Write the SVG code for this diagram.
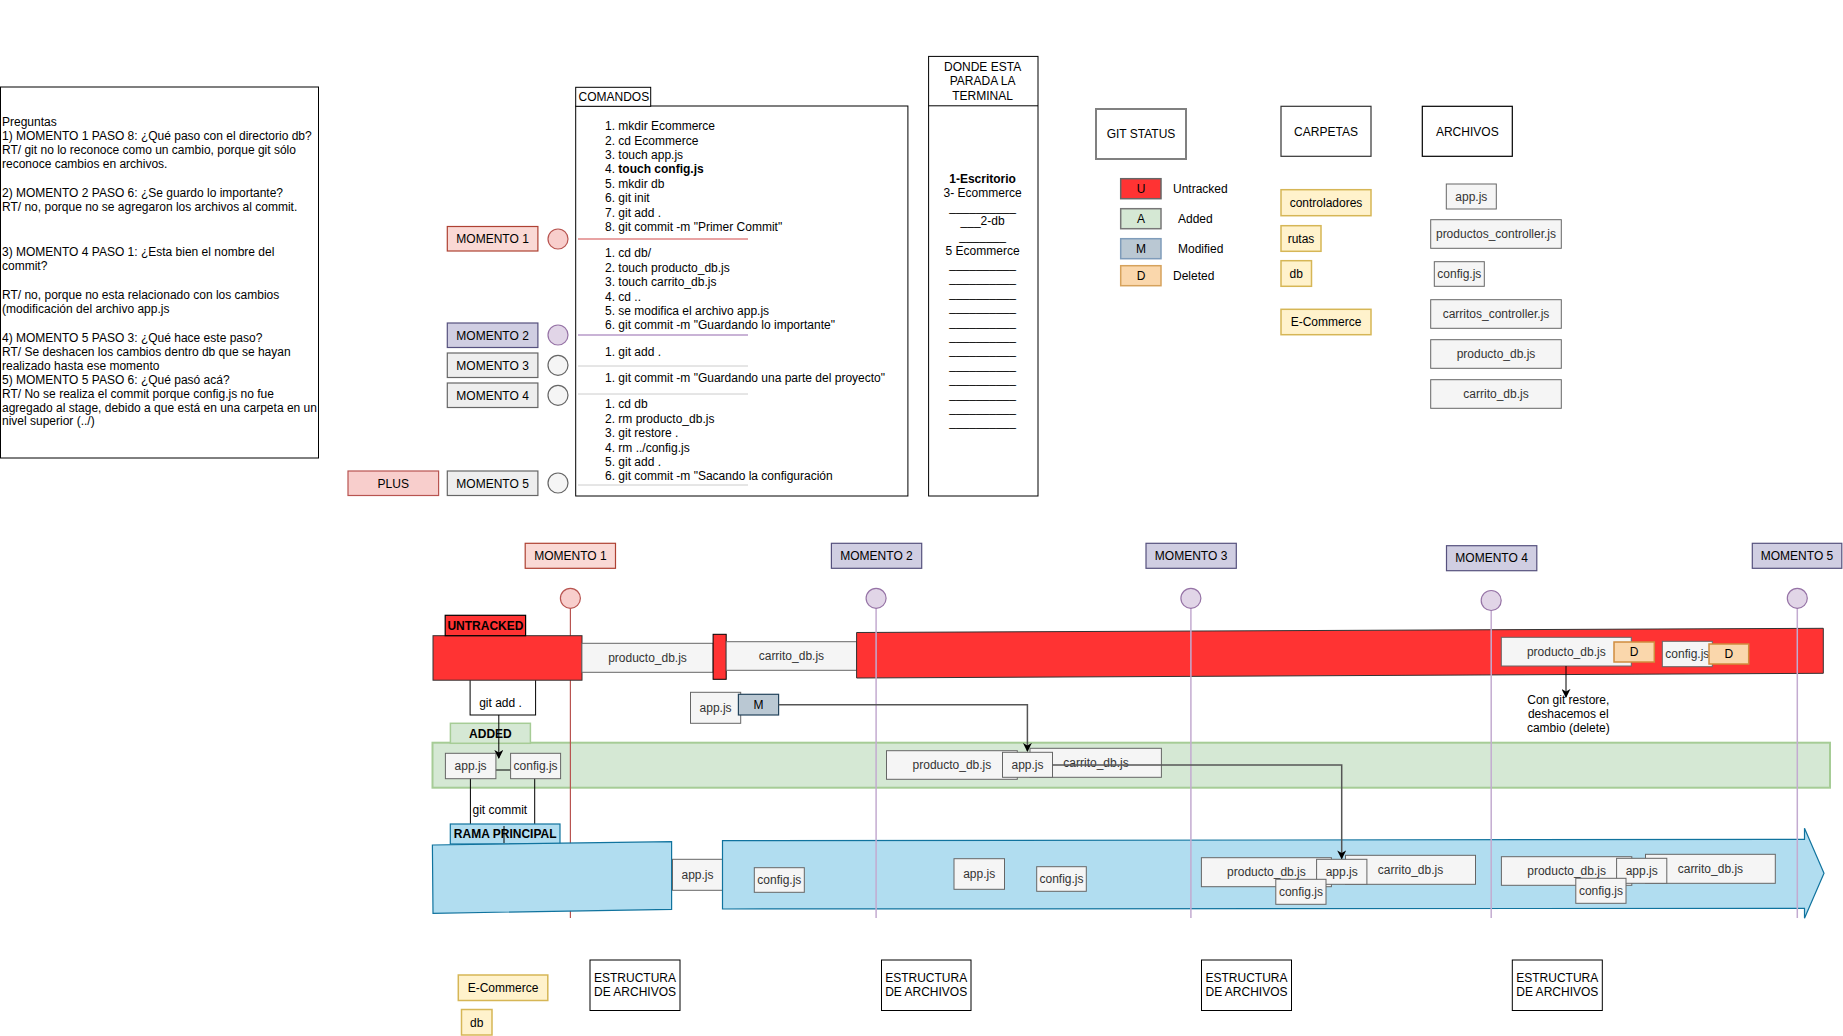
<svg xmlns="http://www.w3.org/2000/svg" width="1843" height="1036" viewBox="0 0 1843 1036">
<defs>
<style>
text { font-family: "Liberation Sans", Arial, Helvetica, sans-serif; font-size: 12px; fill: #000; }
.m { text-anchor: middle; }
.b { font-weight: bold; }
.file rect { fill: #f5f5f5; stroke: #666; stroke-width: 1; }
.file text { fill: #333; text-anchor: middle; }
.plain { fill: #fff; stroke: #000; stroke-width: 1; }
.folder rect { fill: #fff2cc; stroke: #d6b656; stroke-width: 1.5; }
.mo1 rect { fill: #fad9d5; stroke: #ae4132; stroke-width: 1.2; }
.mo2 rect { fill: #d0cee2; stroke: #56517e; stroke-width: 1.2; }
.mog rect { fill: #eeeeee; stroke: #666; stroke-width: 1.2; }
.red { fill: #ff3333; stroke: #333; stroke-width: 1; }
.blue { fill: #b1ddf0; stroke: #10739e; stroke-width: 1.2; }
.green { fill: #d5e8d4; stroke: #a6cc96; stroke-width: 2; }
.del rect { fill: #fad7ac; stroke: #d08c3e; stroke-width: 1.5; }
.c1 { fill: #f8cecc; stroke: #b85450; stroke-width: 1.2; }
.c2 { fill: #e1d5e7; stroke: #9673a6; stroke-width: 1.2; }
.cg { fill: #f5f5f5; stroke: #666; stroke-width: 1.2; }
.vl { stroke: #c3abd0; stroke-width: 1.5; fill: none; }
.edge { fill: none; stroke: #000; stroke-width: 1; }
.edge2 { fill: none; stroke: #555; stroke-width: 1.5; }
</style>
<marker id="arrow" viewBox="0 0 10 10" refX="9" refY="5" markerWidth="9" markerHeight="9" markerUnits="userSpaceOnUse" orient="auto">
<path d="M0,0 L10,5 L0,10 L3,5 z" fill="#000"/>
</marker>
</defs>

<rect width="1843" height="1036" fill="#fff"/>

<!-- Questions panel -->
<g id="preguntas">
<rect class="plain" x="0.5" y="87" width="318" height="371"/>
<text x="2" y="125.7">Preguntas</text>
<text x="2" y="140">1) MOMENTO 1 PASO 8: ¿Qué paso con el directorio db?</text>
<text x="2" y="154">RT/ git no lo reconoce como un cambio, porque git sólo</text>
<text x="2" y="168">reconoce cambios en archivos.</text>
<text x="2" y="196.5">2) MOMENTO 2 PASO 6: ¿Se guardo lo importante?</text>
<text x="2" y="211">RT/ no, porque no se agregaron los archivos al commit.</text>
<text x="2" y="255.5">3) MOMENTO 4 PASO 1: ¿Esta bien el nombre del</text>
<text x="2" y="270">commit?</text>
<text x="2" y="299">RT/ no, porque no esta relacionado con los cambios</text>
<text x="2" y="312.7">(modificación del archivo app.js</text>
<text x="2" y="342">4) MOMENTO 5 PASO 3: ¿Qué hace este paso?</text>
<text x="2" y="356">RT/ Se deshacen los cambios dentro db que se hayan</text>
<text x="2" y="370.3">realizado hasta ese momento</text>
<text x="2" y="383.5">5) MOMENTO 5 PASO 6: ¿Qué pasó acá?</text>
<text x="2" y="398">RT/ No se realiza el commit porque config.js no fue</text>
<text x="2" y="411.5">agregado al stage, debido a que está en una carpeta en un</text>
<text x="2" y="425">nivel superior (../)</text>
</g>

<!-- Command list -->
<g id="comandos">
<rect class="plain" x="575.7" y="106" width="332.2" height="390"/>
<rect class="plain" x="575.7" y="87.3" width="75" height="19"/>
<text x="578.5" y="101">COMANDOS</text>
<text x="605" y="130">1. mkdir Ecommerce</text>
<text x="605" y="145">2. cd Ecommerce</text>
<text x="605" y="159">3. touch app.js</text>
<text x="605" y="173">4. <tspan class="b">touch config.js</tspan></text>
<text x="605" y="188">5. mkdir db</text>
<text x="605" y="202">6. git init</text>
<text x="605" y="217">7. git add .</text>
<text x="605" y="231">8. git commit -m "Primer Commit"</text>
<line x1="578" y1="239" x2="748" y2="239" stroke="#e8a3a3" stroke-width="2"/>
<text x="605" y="257">1. cd db/</text>
<text x="605" y="272">2. touch producto_db.js</text>
<text x="605" y="286">3. touch carrito_db.js</text>
<text x="605" y="301">4. cd ..</text>
<text x="605" y="315">5. se modifica el archivo app.js</text>
<text x="605" y="329">6. git commit -m "Guardando lo importante"</text>
<line x1="578" y1="335" x2="748" y2="335" stroke="#c9b3d6" stroke-width="2"/>
<text x="605" y="356">1. git add .</text>
<line x1="578" y1="366" x2="748" y2="366" stroke="#cccccc" stroke-width="1"/>
<text x="605" y="381.5">1. git commit -m "Guardando una parte del proyecto"</text>
<line x1="578" y1="394" x2="748" y2="394" stroke="#cccccc" stroke-width="1"/>
<text x="605" y="407.5">1. cd db</text>
<text x="605" y="423">2. rm producto_db.js</text>
<text x="605" y="437">3. git restore .</text>
<text x="605" y="452">4. rm ../config.js</text>
<text x="605" y="466">5. git add .</text>
<text x="605" y="480">6. git commit -m "Sacando la configuración</text>
<line x1="578" y1="485" x2="748" y2="485" stroke="#cccccc" stroke-width="1"/>
</g>

<!-- Moment index on the left of the commands -->
<g id="indice-momento-1" class="mo1">
<rect x="447.3" y="226.5" width="90.6" height="24.5"/>
<text class="m" x="492.6" y="243">MOMENTO 1</text>
<circle class="c1" cx="558" cy="239" r="10"/>
</g>
<g id="indice-momento-2" class="mo2">
<rect x="447.3" y="323" width="90.6" height="24.5"/>
<text class="m" x="492.6" y="339.5">MOMENTO 2</text>
<circle class="c2" cx="558" cy="335" r="10"/>
</g>
<g id="indice-momento-3" class="mog">
<rect x="447.3" y="353" width="90.6" height="24.5"/>
<text class="m" x="492.6" y="369.5">MOMENTO 3</text>
<circle class="cg" cx="558" cy="365.3" r="10"/>
</g>
<g id="indice-momento-4" class="mog">
<rect x="447.3" y="383" width="90.6" height="24.5"/>
<text class="m" x="492.6" y="399.5">MOMENTO 4</text>
<circle class="cg" cx="558" cy="395.3" r="10"/>
</g>
<g id="indice-momento-5" class="mog">
<rect x="447.3" y="471" width="90.6" height="24.5"/>
<text class="m" x="492.6" y="487.5">MOMENTO 5</text>
<circle class="cg" cx="558" cy="483" r="10"/>
</g>
<g id="plus" class="mo1">
<rect x="348" y="471" width="90.6" height="24.5" style="fill:#f8cecc;stroke:#b85450"/>
<text class="m" x="393.3" y="487.5">PLUS</text>
</g>

<!-- Terminal location column -->
<g id="terminal">
<rect class="plain" x="928.6" y="56.4" width="109.4" height="439.6"/>
<line x1="928.6" y1="105.8" x2="1038" y2="105.8" stroke="#000"/>
<text class="m" x="982.6" y="71.3">DONDE ESTA</text>
<text class="m" x="982.6" y="85.4">PARADA LA</text>
<text class="m" x="982.6" y="99.5">TERMINAL</text>
<text class="m b" x="982.6" y="183">1-Escritorio</text>
<text class="m" x="982.6" y="197">3- Ecommerce</text>
<text class="m" x="982.6" y="211">__________</text>
<text class="m" x="982.6" y="225">___2-db</text>
<text class="m" x="982.6" y="239.5">_______</text>
<text class="m" x="982.6" y="254.5">5 Ecommerce</text>
<text class="m" x="982.6" y="268">__________</text>
<text class="m" x="982.6" y="282.4">__________</text>
<text class="m" x="982.6" y="296.8">__________</text>
<text class="m" x="982.6" y="311.2">__________</text>
<text class="m" x="982.6" y="325.6">__________</text>
<text class="m" x="982.6" y="340">__________</text>
<text class="m" x="982.6" y="354.4">__________</text>
<text class="m" x="982.6" y="368.8">__________</text>
<text class="m" x="982.6" y="383.2">__________</text>
<text class="m" x="982.6" y="397.6">__________</text>
<text class="m" x="982.6" y="412">__________</text>
<text class="m" x="982.6" y="426.4">__________</text>
</g>

<!-- Git status legend -->
<g id="git-status">
<rect x="1096" y="109" width="90" height="50" fill="#fff" stroke="#808080" stroke-width="2"/>
<text class="m" x="1141" y="138.2">GIT STATUS</text>
<rect x="1120.7" y="178.7" width="40.3" height="20" fill="#ff3333" stroke="#666" stroke-width="1.5"/>
<text class="m" x="1141" y="193">U</text>
<text x="1173" y="192.8">Untracked</text>
<rect x="1120.7" y="208.7" width="40.3" height="20" fill="#d5e8d4" stroke="#777" stroke-width="1.5"/>
<text class="m" x="1141" y="223">A</text>
<text x="1178" y="222.8">Added</text>
<rect x="1120.7" y="238.7" width="40.3" height="20" fill="#bac8d3" stroke="#7f9cba" stroke-width="1.5"/>
<text class="m" x="1141" y="253">M</text>
<text x="1178" y="252.8">Modified</text>
<rect x="1120.7" y="265.7" width="40.3" height="20" fill="#fad7ac" stroke="#d6a25c" stroke-width="1.5"/>
<text class="m" x="1141" y="280">D</text>
<text x="1173" y="279.8">Deleted</text>
</g>

<!-- Folders -->
<g id="carpetas">
<rect x="1281" y="106.3" width="90" height="50" fill="#fff" stroke="#333" stroke-width="1.2"/>
<text class="m" x="1326" y="135.5">CARPETAS</text>
</g>
<g id="carpeta-controladores" class="folder">
<rect x="1281" y="189.7" width="90" height="26"/>
<text class="m" x="1326" y="207">controladores</text>
</g>
<g id="carpeta-rutas" class="folder">
<rect x="1281" y="225.7" width="40" height="25.6"/>
<text class="m" x="1301" y="242.7">rutas</text>
</g>
<g id="carpeta-db" class="folder">
<rect x="1281" y="260.7" width="30.5" height="25.6"/>
<text class="m" x="1296.2" y="277.7">db</text>
</g>
<g id="carpeta-ecommerce" class="folder">
<rect x="1281" y="309.3" width="90" height="25.4"/>
<text class="m" x="1326" y="326.2">E-Commerce</text>
</g>

<!-- Files -->
<g id="archivos">
<rect x="1422.3" y="106.3" width="90" height="50" fill="#fff" stroke="#000" stroke-width="1.2"/>
<text class="m" x="1467.3" y="135.5">ARCHIVOS</text>
</g>
<g id="archivo-app" class="file"><rect x="1446.3" y="184" width="50" height="25"/><text x="1471.3" y="200.7">app.js</text></g>
<g id="archivo-productos-controller" class="file"><rect x="1430.7" y="219.7" width="130.6" height="28.6"/><text x="1496" y="238.2">productos_controller.js</text></g>
<g id="archivo-config" class="file"><rect x="1434.3" y="261.7" width="50" height="24.6"/><text x="1459.3" y="278.2">config.js</text></g>
<g id="archivo-carritos-controller" class="file"><rect x="1430.7" y="299.7" width="130.6" height="28.6"/><text x="1496" y="318.2">carritos_controller.js</text></g>
<g id="archivo-producto-db" class="file"><rect x="1430.7" y="339.7" width="130.6" height="28.6"/><text x="1496" y="358.2">producto_db.js</text></g>
<g id="archivo-carrito-db" class="file"><rect x="1430.7" y="379.7" width="130.6" height="28.6"/><text x="1496" y="398.2">carrito_db.js</text></g>

<!-- Timeline: moment headers -->
<g id="momento-1" class="mo1">
<rect x="525.2" y="543.3" width="90.3" height="25"/>
<text class="m" x="570.4" y="560">MOMENTO 1</text>
</g>
<g id="momento-2" class="mo2">
<rect x="831.4" y="543.3" width="90.3" height="25"/>
<text class="m" x="876.5" y="560">MOMENTO 2</text>
</g>
<g id="momento-3" class="mo2">
<rect x="1146" y="543.3" width="90.3" height="25"/>
<text class="m" x="1191.1" y="560">MOMENTO 3</text>
</g>
<g id="momento-4" class="mo2">
<rect x="1446.5" y="545.7" width="90.3" height="25"/>
<text class="m" x="1491.6" y="562.4">MOMENTO 4</text>
</g>
<g id="momento-5" class="mo2">
<rect x="1752.3" y="543.3" width="89.5" height="25"/>
<text class="m" x="1797" y="560">MOMENTO 5</text>
</g>

<!-- Staging band -->
<g id="added">
<rect class="green" x="432.5" y="742.7" width="1397.5" height="45"/>
<rect x="450.4" y="723.3" width="80" height="20" fill="#d5e8d4" stroke="#a6cc96" stroke-width="1.5"/>
<text class="m b" x="490.4" y="737.6">ADDED</text>
</g>

<!-- Moment 1 marker line (behind the first blocks) -->
<line x1="570.4" y1="608.3" x2="570.4" y2="918" stroke="#b85450" stroke-width="1.2"/>

<!-- git add . step box -->
<g id="git-add">
<rect x="470.1" y="670" width="65.5" height="45" fill="#fff" stroke="#000"/>
<text class="m" x="500.5" y="706.5">git add .</text>
</g>

<!-- Untracked area -->
<g id="untracked">
<rect class="red" x="433" y="635.7" width="149" height="44.5"/>
<rect x="445.2" y="615.3" width="80.4" height="20.4" fill="#ff3333" stroke="#000" stroke-width="1.2"/>
<text class="m b" x="485.4" y="629.8">UNTRACKED</text>
</g>
<g id="untracked-producto-db" class="file"><rect x="581.9" y="643.3" width="131.2" height="29"/><text x="647.5" y="662">producto_db.js</text></g>
<rect id="untracked-separador" class="red" x="713.1" y="634.3" width="13.1" height="45" style="stroke:#000"/>
<g id="untracked-carrito-db" class="file"><rect x="726.2" y="641.7" width="130.4" height="28.6"/><text x="791.4" y="660.2">carrito_db.js</text></g>
<polygon id="untracked-banda" class="red" points="856.6,632.5 1823.3,628.3 1823.3,673.3 856.6,678"/>

<g id="untracked-m5-producto" class="file"><rect x="1501.3" y="637.3" width="130" height="28.7"/><text x="1566.3" y="655.8">producto_db.js</text></g>
<g id="untracked-m5-producto-d" class="del"><rect x="1614" y="642" width="40.3" height="20"/><text class="m" x="1634.2" y="656.3">D</text></g>
<g id="untracked-m5-config" class="file"><rect x="1662.3" y="641.3" width="50" height="25.4"/><text x="1687.3" y="658.2">config.js</text></g>
<g id="untracked-m5-config-d" class="del"><rect x="1709" y="644" width="39.7" height="20"/><text class="m" x="1728.9" y="658.3">D</text></g>

<g id="nota-restore">
<text class="m" x="1568.3" y="704">Con git restore,</text>
<text class="m" x="1568.3" y="718">deshacemos el</text>
<text class="m" x="1568.3" y="732">cambio (delete)</text>
</g>

<g id="modificado-app" class="file"><rect x="690.5" y="692.3" width="50.2" height="31"/><text x="715.6" y="712">app.js</text></g>
<g id="modificado-m"><rect x="738.4" y="694.3" width="40.2" height="20.7" fill="#bac8d3" stroke="#23445d" stroke-width="1.2"/><text class="m" x="758.5" y="709">M</text></g>

<!-- Staged files -->
<g id="git-commit">
<rect x="470.4" y="770" width="64.3" height="56" fill="none" stroke="#000"/>
<text class="m" x="499.8" y="813.5">git commit</text>
</g>
<g id="added-app" class="file"><rect x="445.4" y="753.3" width="50.5" height="25.4"/><text x="470.6" y="770.2">app.js</text></g>
<g id="added-config" class="file"><rect x="510.6" y="753.3" width="50" height="25.4"/><text x="535.6" y="770.2">config.js</text></g>
<g id="added-producto-db" class="file"><rect x="886.5" y="750.7" width="130.8" height="28.6"/><text x="951.9" y="769.2">producto_db.js</text></g>
<g id="added-carrito-db" class="file"><rect x="1030" y="748.3" width="131.4" height="29"/><text x="1096" y="767.3">carrito_db.js</text></g>
<g id="added-app-2" class="file"><rect x="1002.5" y="752.3" width="50" height="25"/><text x="1027.5" y="769">app.js</text></g>

<!-- Main branch -->
<g id="rama-principal">
<rect x="450.3" y="824" width="109.7" height="20" fill="#b1ddf0" stroke="#10739e" stroke-width="1.2"/>
<text class="m b" x="505.2" y="838.4">RAMA PRINCIPAL</text>
<polygon class="blue" points="432.4,845 671.6,841.7 671.6,909.3 433,913.3"/>
</g>
<g id="rama-app" class="file"><rect x="672.5" y="859.3" width="50" height="31"/><text x="697.5" y="879">app.js</text></g>
<polygon id="rama-flecha" class="blue" points="722.5,840.7 1804.5,839.3 1804.5,828.3 1824,873.3 1804.5,918.3 1804.5,908.3 722.5,909"/>

<g id="rama-config-1" class="file"><rect x="754.3" y="867.7" width="50" height="24.6"/><text x="779.3" y="884.2">config.js</text></g>
<g id="rama-app-2" class="file"><rect x="954" y="858.7" width="50.5" height="30.6"/><text x="979.2" y="878.2">app.js</text></g>
<g id="rama-config-2" class="file"><rect x="1036.7" y="866.7" width="49.6" height="24.6"/><text x="1061.5" y="883.2">config.js</text></g>

<g id="rama-m4-producto" class="file"><rect x="1201.4" y="857.7" width="130" height="29"/><text x="1266.4" y="876.4">producto_db.js</text></g>
<g id="rama-m4-carrito" class="file"><rect x="1345.5" y="855.3" width="130" height="29"/><text x="1410.5" y="874.4">carrito_db.js</text></g>
<g id="rama-m4-app" class="file"><rect x="1316.6" y="859.3" width="50.3" height="25"/><text x="1341.7" y="876">app.js</text></g>
<g id="rama-m4-config" class="file"><rect x="1275.8" y="879.3" width="50.2" height="25"/><text x="1300.9" y="896">config.js</text></g>

<g id="rama-m5-producto" class="file"><rect x="1501.4" y="856.7" width="130.4" height="28.6"/><text x="1566.6" y="875.2">producto_db.js</text></g>
<g id="rama-m5-carrito" class="file"><rect x="1645.5" y="854.3" width="129.8" height="29"/><text x="1710.4" y="873.2">carrito_db.js</text></g>
<g id="rama-m5-app" class="file"><rect x="1616.6" y="858.3" width="50.2" height="25"/><text x="1641.7" y="875">app.js</text></g>
<g id="rama-m5-config" class="file"><rect x="1575.8" y="878.3" width="50.2" height="25"/><text x="1600.9" y="895">config.js</text></g>

<!-- Moment markers and their lines -->
<g id="marcadores">
<circle class="c1" cx="570.4" cy="598.3" r="10"/>
<line class="vl" x1="876.1" y1="608.3" x2="876.1" y2="918"/>
<circle class="c2" cx="876.1" cy="598.3" r="10"/>
<line class="vl" x1="1190.9" y1="608.3" x2="1190.9" y2="918"/>
<circle class="c2" cx="1190.9" cy="598.3" r="10"/>
<line class="vl" x1="1491.2" y1="610.5" x2="1491.2" y2="918"/>
<circle class="c2" cx="1491.2" cy="600.5" r="10"/>
<line class="vl" x1="1797.3" y1="608.3" x2="1797.3" y2="918"/>
<circle class="c2" cx="1797.3" cy="598.3" r="10"/>
</g>

<!-- Connectors -->
<g id="conectores">
<path class="edge" d="M498.8,715 V758" marker-end="url(#arrow)"/>
<path class="edge" d="M504,826 V843"/>
<path class="edge2" d="M778.6,704.7 H1027.4 V751" marker-end="url(#arrow)"/>
<path class="edge2" d="M1052.5,765 H1341.7 V858.5" marker-end="url(#arrow)"/>
<path class="edge" d="M1566,666 V697" marker-end="url(#arrow)"/>
</g>

<!-- File structure placeholders -->
<g id="estructura-1">
<rect class="plain" x="590" y="960" width="90" height="50.5"/>
<text class="m" x="635" y="982.4">ESTRUCTURA</text>
<text class="m" x="635" y="996.4">DE ARCHIVOS</text>
</g>
<g id="estructura-2">
<rect class="plain" x="881.5" y="960" width="89.5" height="50.5"/>
<text class="m" x="926.2" y="982.4">ESTRUCTURA</text>
<text class="m" x="926.2" y="996.4">DE ARCHIVOS</text>
</g>
<g id="estructura-3">
<rect class="plain" x="1201.5" y="960" width="90" height="50.5"/>
<text class="m" x="1246.5" y="982.4">ESTRUCTURA</text>
<text class="m" x="1246.5" y="996.4">DE ARCHIVOS</text>
</g>
<g id="estructura-4">
<rect class="plain" x="1512.3" y="960" width="90" height="50.5"/>
<text class="m" x="1557.3" y="982.4">ESTRUCTURA</text>
<text class="m" x="1557.3" y="996.4">DE ARCHIVOS</text>
</g>
<g id="estructura-ecommerce" class="folder">
<rect x="458.3" y="975" width="89.5" height="25.5"/>
<text class="m" x="503" y="992">E-Commerce</text>
</g>
<g id="estructura-db" class="folder">
<rect x="461.5" y="1009.5" width="30.5" height="25.5"/>
<text class="m" x="476.7" y="1026.5">db</text>
</g>
</svg>
